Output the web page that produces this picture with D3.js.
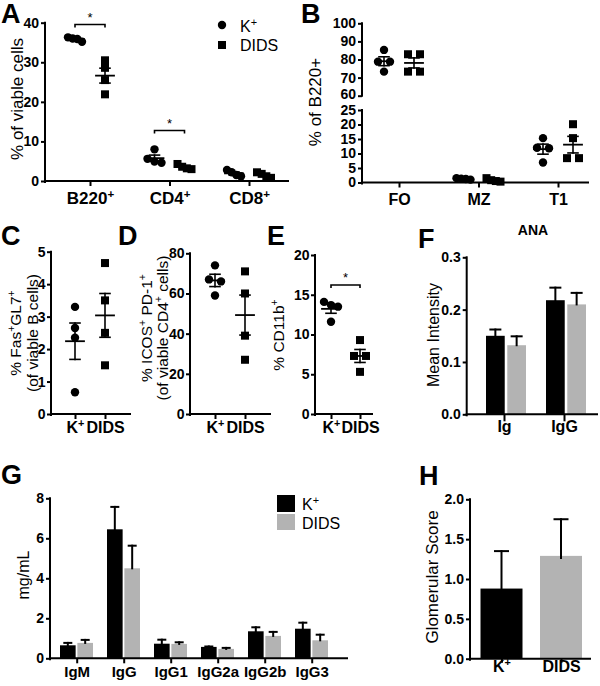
<!DOCTYPE html>
<html><head><meta charset="utf-8">
<script src="https://cdn.jsdelivr.net/npm/d3@7"></script>
<style>body{margin:0;background:#fff}svg{display:block}</style>
</head><body><svg id="c" width="600" height="686"></svg>
<script>
// ---------- data ----------
const aCategories = ["B220^+", "CD4^+", "CD8^+"];
const aK = [[36.3, 35.2, 35.9, 36.0], [8.0, 5.6, 4.9, 4.6], [2.8, 2.2, 1.5, 1.2]];
const aD = [[30.5, 28.6, 25.5, 21.9], [4.3, 3.6, 3.0, 3.2], [2.2, 1.8, 1.2, 0.8]];
const aTicks = [0, 10, 20, 30, 40];

const bCategories = ["FO", "MZ", "T1"];
const bK = [[85.3, 78.8, 78.8, 73.3], [1.5, 1.3, 1.0, 1.2], [15.3, 12.0, 11.8, 6.9]];
const bD = [[82.9, 82.9, 73.3, 73.3], [0.5, 1.5, 0.3, 0.8], [20.1, 15.3, 8.4, 8.4]];
const bTicksTop = [60, 70, 80, 90, 100];
const bTicksBottom = [0, 5, 10, 15, 20, 25];

const groupLabels = ["K^+", "DIDS"];
const cK = [3.3, 2.65, 2.35, 0.67];
const cD = [4.65, 3.5, 2.5, 1.5];
const cTicks = [0, 1, 2, 3, 4, 5];
const dK = [74, 67, 66, 59];
const dD = [71, 60, 39, 27];
const dTicks = [0, 20, 40, 60, 80];
const eK = [14.1, 13.7, 13.5, 11.6];
const eD = [9.3, 7.3, 7.3, 5.3];
const eTicks = [0, 5, 10, 15, 20];

const fCategories = ["Ig", "IgG"];
const fK = [0.15, 0.218];
const fKErr = [0.012, 0.024];
const fD = [0.132, 0.21];
const fDErr = [0.017, 0.022];
const fTicks = [0, 0.1, 0.2, 0.3];

const gCategories = ["IgM", "IgG", "IgG1", "IgG2a", "IgG2b", "IgG3"];
const gK = [0.65, 6.45, 0.73, 0.57, 1.35, 1.48];
const gKErr = [0.12, 1.12, 0.2, 0.02, 0.2, 0.3];
const gD = [0.77, 4.5, 0.72, 0.47, 1.12, 0.9];
const gDErr = [0.15, 1.13, 0.08, 0.05, 0.2, 0.28];
const gTicks = [0, 2, 4, 6, 8];

const hCategories = ["K^+", "DIDS"];
const hValues = [0.88, 1.29];
const hErr = [0.47, 0.46];
const hTicks = [0, 0.5, 1.0, 1.5, 2.0];

const seriesNames = ["K^+", "DIDS"];
const BLACK = "#000", GREY = "#b3b3b3";
const FONT = "Arial, 'Liberation Sans', Helvetica, sans-serif";
const TICK_FS = 14;

// ---------- helpers ----------
const svg = d3.select("#c");

function setSup(t, str) {
  t.text(null);
  const parts = str.split("^");
  t.append("tspan").text(parts[0]);
  for (let i = 1; i < parts.length; i++) {
    t.append("tspan").attr("baseline-shift", "super").attr("font-size", "0.68em").text(parts[i][0]);
    const rest = parts[i].slice(1);
    if (rest) t.append("tspan").text(rest);
  }
}

function text(x, y, str, opts = {}) {
  const t = svg.append("text").attr("x", x).attr("y", y)
    .attr("font-family", FONT).attr("font-size", opts.size || 16)
    .attr("font-weight", opts.weight || "normal")
    .attr("text-anchor", opts.anchor || "start").attr("fill", "#000");
  if (opts.rotate) t.attr("transform", `rotate(-90,${x},${y})`);
  setSup(t, str);
  return t;
}

function line(x1, y1, x2, y2, w = 2) {
  svg.append("line").attr("x1", x1).attr("y1", y1).attr("x2", x2).attr("y2", y2)
    .attr("stroke", "#000").attr("stroke-width", w).attr("stroke-linecap", "square");
}

function styleTicks(g, fs) {
  g.select(".domain").remove();
  g.attr("font-family", FONT).attr("font-size", fs).attr("font-weight", "bold");
  g.selectAll(".tick line").attr("stroke", "#000").attr("stroke-width", 2);
  g.selectAll(".tick text").attr("fill", "#000");
}

function yAxis(x, y, ticks, fmt, pad = 2) {
  const g = svg.append("g").attr("transform", `translate(${x},0)`)
    .call(d3.axisLeft(y).tickValues(ticks).tickSize(4).tickPadding(pad).tickFormat(fmt));
  styleTicks(g, TICK_FS);
  const r = y.range();
  line(x, r[0] + 1, x, r[1], 2);
}

function xAxis(x0, x1, yPos, xs, fs, off, tickLen = 5) {
  line(x0, yPos, x1, yPos, 2);
  const g = svg.append("g").attr("transform", `translate(0,${yPos})`)
    .call(d3.axisBottom(xs).tickSize(tickLen).tickFormat(d => d));
  styleTicks(g, fs);
  g.selectAll(".tick text").attr("y", off).attr("dy", null)
    .each(function (d) { setSup(d3.select(this), d); });
}

// symmetric spreading of points that would overlap (GraphPad-like scatter)
function swarm(vals, y) {
  const sorted = vals.slice().sort((a, b) => b - a).map(v => ({ v, y: y(v), x: 0 }));
  const clusters = [];
  sorted.forEach((p, i) => {
    if (i > 0 && Math.abs(p.y - sorted[i - 1].y) < 7) clusters[clusters.length - 1].push(p);
    else clusters.push([p]);
  });
  clusters.forEach(cl => {
    const n = cl.length;
    if (n < 2) return;
    const sp = Math.min(12, 14 / (n - 1));
    cl.forEach((p, j) => { p.x = (j - (n - 1) / 2) * sp; });
  });
  return sorted;
}

function scatter(vals, cx, y, shape) {
  const m = d3.mean(vals), sem = d3.deviation(vals) / Math.sqrt(vals.length);
  const pts = swarm(vals, y);
  const g = svg.append("g").attr("fill", "#000");
  if (shape === "circle") {
    g.selectAll("circle").data(pts).join("circle")
      .attr("cx", p => cx + p.x).attr("cy", p => p.y).attr("r", 4.2);
  } else {
    g.selectAll("rect").data(pts).join("rect")
      .attr("x", p => cx + p.x - 4).attr("y", p => p.y - 4).attr("width", 8).attr("height", 8);
  }
  line(cx - 9, y(m), cx + 9, y(m), 1.8);
  line(cx, y(m - sem), cx, y(m + sem), 1.6);
  line(cx - 5, y(m + sem), cx + 5, y(m + sem), 1.6);
  line(cx - 5, y(m - sem), cx + 5, y(m - sem), 1.6);
}

function sigBar(x1, x2, yv) {
  svg.append("path").attr("d", `M${x1},${yv + 3}V${yv}H${x2}V${yv + 3}`)
    .attr("fill", "none").attr("stroke", "#000").attr("stroke-width", 1.6);
  text((x1 + x2) / 2, yv - 3, "*", { size: 13, anchor: "middle" });
}

function errBar(cx, y0, y1, cap) {
  line(cx, y0, cx, y1, 2);
  line(cx - cap / 2, y1, cx + cap / 2, y1, 2);
}

// ---------- Panel A ----------
{
  const y = d3.scaleLinear().domain([0, 40]).range([181, 22.7]);
  const x = d3.scalePoint().domain(aCategories).range([90, 249]);
  const s = d3.scalePoint().domain(seriesNames).range([-15, 15]);
  yAxis(45, y, aTicks, d3.format("d"));
  xAxis(45, 288, 181, x, 17, 23);
  aCategories.forEach((c, i) => {
    scatter(aK[i], x(c) + s("K^+"), y, "circle");
    scatter(aD[i], x(c) + s("DIDS"), y, "square");
  });
  sigBar(x(aCategories[0]) + s("K^+"), x(aCategories[0]) + s("DIDS"), 24.5);
  sigBar(x(aCategories[1]) + s("K^+"), x(aCategories[1]) + s("DIDS"), 130.5);
  text(22.5, 99, "% of viable cells", { size: 17, anchor: "middle", rotate: true });
  text(1, 23, "A", { size: 27, weight: "bold" });
  svg.append("circle").attr("cx", 222).attr("cy", 25).attr("r", 4.2);
  svg.append("rect").attr("x", 218).attr("y", 41).attr("width", 8).attr("height", 8);
  text(240, 31.5, seriesNames[0], { size: 16 });
  text(240, 51, seriesNames[1], { size: 16 });
}

// ---------- Panel B ----------
{
  const yTop = d3.scaleLinear().domain([60, 100]).range([95.7, 23.3]);
  const yBot = d3.scaleLinear().domain([0, 25]).range([182.5, 110]);
  const x = d3.scalePoint().domain(bCategories).range([399, 558]);
  const s = d3.scalePoint().domain(seriesNames).range([-15, 15]);
  [[yTop, bTicksTop], [yBot, bTicksBottom]].forEach(([sc, tv]) => {
    const g = svg.append("g").attr("transform", "translate(362,0)")
      .call(d3.axisLeft(sc).tickValues(tv).tickSize(4).tickPadding(2));
    styleTicks(g, TICK_FS);
    // lift the label just above the axis break so it does not collide with "25"
    g.selectAll(".tick text").filter(d => d === 60).attr("y", -2);
  });
  line(362, yTop.range()[0], 362, yTop.range()[1], 2);
  line(362, yBot.range()[0] + 1, 362, yBot.range()[1], 2);
  xAxis(362, 588, 182.5, x, 16, 22.5);
  bCategories.forEach((c, i) => {
    const y = i === 0 ? yTop : yBot;
    scatter(bK[i], x(c) + s("K^+"), y, "circle");
    scatter(bD[i], x(c) + s("DIDS"), y, "square");
  });
  text(321, 102, "% of B220+", { size: 17, anchor: "middle", rotate: true });
  text(301, 23, "B", { size: 27, weight: "bold" });
}

// ---------- Panels C, D, E ----------
function smallScatter(kv, dv, ticks, dom, ax, xr, xEnd, titleLines, titleX, titleY, letter, letterX, sig) {
  const y = d3.scaleLinear().domain(dom).range([414, ax.top]);
  const x = d3.scalePoint().domain(groupLabels).range(xr);
  yAxis(ax.x, y, ticks, d3.format("d"), 1.5);
  xAxis(ax.x, xEnd, 414, x, 16, 18.5);
  scatter(kv, x("K^+"), y, "circle");
  scatter(dv, x("DIDS"), y, "square");
  titleLines.forEach((t, i) => text(titleX[i], titleY, t, { size: 15.5, anchor: "middle", rotate: true }));
  text(letterX, 245, letter, { size: 27, weight: "bold" });
  if (sig) sigBar(x("K^+"), x("DIDS"), sig);
}
smallScatter(cK, cD, cTicks, [0, 5], { x: 51, top: 251.7 }, [75, 105], 130,
  ["% Fas^+GL7^+", "(of viable B cells)"], [21, 37.5], 333, "C", 1);
smallScatter(dK, dD, dTicks, [0, 80], { x: 190, top: 253.3 }, [215, 245], 270,
  ["% ICOS^+ PD-1^+", "(of viable CD4^+ cells)"], [152, 168], 328, "D", 118);
smallScatter(eK, eD, eTicks, [0, 20], { x: 315, top: 255 }, [331, 360], 372,
  ["% CD11b^+"], [284], 335, "E", 267, 285);

// ---------- Panel F ----------
{
  const y = d3.scaleLinear().domain([0, 0.3]).range([414.3, 257.3]);
  const x = d3.scalePoint().domain(fCategories).range([504, 564]);
  const s = d3.scaleBand().domain(seriesNames).range([-18, 22]).paddingInner(0.12);
  yAxis(466.7, y, fTicks, d3.format(".1f"));
  const bars = [];
  fCategories.forEach((c, i) => {
    bars.push({ c, s: "K^+", v: fK[i], e: fKErr[i], col: BLACK });
    bars.push({ c, s: "DIDS", v: fD[i], e: fDErr[i], col: GREY });
  });
  svg.append("g").selectAll("rect").data(bars).join("rect")
    .attr("x", d => x(d.c) + s(d.s)).attr("width", s.bandwidth())
    .attr("y", d => y(d.v)).attr("height", d => y(0) - y(d.v)).attr("fill", d => d.col);
  bars.forEach(d => errBar(x(d.c) + s(d.s) + s.bandwidth() / 2, y(d.v), y(d.v + d.e), 10));
  xAxis(466.7, 597, 414.3, x, 16, 18, 7);
  text(439, 335, "Mean Intensity", { size: 16, anchor: "middle", rotate: true });
  text(533, 235, "ANA", { size: 14, weight: "bold", anchor: "middle" });
  text(418, 248, "F", { size: 27, weight: "bold" });
}

// ---------- Panel G ----------
{
  const y = d3.scaleLinear().domain([0, 8]).range([658.3, 498.3]);
  const x = d3.scalePoint().domain(gCategories).range([76.7, 311.7]);
  const s = d3.scaleBand().domain(seriesNames).range([-16.7, 16.3]).paddingInner(0.1);
  yAxis(50, y, gTicks, d3.format("d"));
  const bars = [];
  gCategories.forEach((c, i) => {
    bars.push({ c, s: "K^+", v: gK[i], e: gKErr[i], col: BLACK });
    bars.push({ c, s: "DIDS", v: gD[i], e: gDErr[i], col: GREY });
  });
  svg.append("g").selectAll("rect").data(bars).join("rect")
    .attr("x", d => x(d.c) + s(d.s)).attr("width", s.bandwidth())
    .attr("y", d => y(d.v)).attr("height", d => y(0) - y(d.v)).attr("fill", d => d.col);
  bars.forEach(d => errBar(x(d.c) + s(d.s) + s.bandwidth() / 2, y(d.v), y(d.v + d.e), 7));
  xAxis(50, 347, 658.3, x, 15, 19, 5);
  text(29, 575, "mg/mL", { size: 16, anchor: "middle", rotate: true });
  text(1, 484, "G", { size: 27, weight: "bold" });
  svg.append("rect").attr("x", 277).attr("y", 495).attr("width", 18).attr("height", 17).attr("fill", BLACK);
  svg.append("rect").attr("x", 277).attr("y", 514).attr("width", 18).attr("height", 16).attr("fill", GREY);
  text(302, 509.5, seriesNames[0], { size: 16 });
  text(302, 529, seriesNames[1], { size: 16 });
}

// ---------- Panel H ----------
{
  const y = d3.scaleLinear().domain([0, 2]).range([658.7, 499.3]);
  const x = d3.scalePoint().domain(hCategories).range([501.5, 561]);
  yAxis(470, y, hTicks, d3.format(".1f"));
  const bw = 42;
  const bars = hCategories.map((c, i) => ({ c, v: hValues[i], e: hErr[i], col: i === 0 ? BLACK : GREY }));
  svg.append("g").selectAll("rect").data(bars).join("rect")
    .attr("x", d => x(d.c) - bw / 2).attr("width", bw)
    .attr("y", d => y(d.v)).attr("height", d => y(0) - y(d.v)).attr("fill", d => d.col);
  bars.forEach(d => errBar(x(d.c), y(d.v) + 2, y(d.v + d.e), 13));
  xAxis(470, 590, 658.7, x, 16, 13, 4);
  text(438, 577, "Glomerular Score", { size: 17, anchor: "middle", rotate: true });
  text(419, 485, "H", { size: 27, weight: "bold" });
}
</script>
</body></html>
